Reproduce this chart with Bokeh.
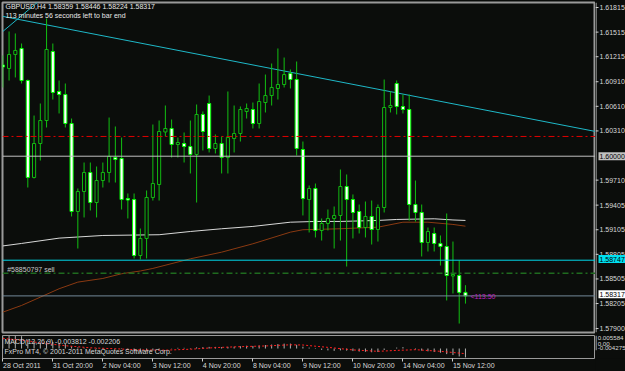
from bokeh.plotting import figure
from bokeh.models import (Range1d, FixedTicker, Span, Label, ColumnDataSource, LinearAxis)
from bokeh.layouts import column, row
from bokeh.core.properties import value
from bokeh.embed import file_html
from bokeh.resources import INLINE

# ---------------- data ----------------
bar_index = list(range(75))
opens = [1.61099, 1.61057, 1.61226, 1.61298, 1.60912, 1.59744, 1.60153, 1.60430, 1.61262, 1.60780,
         1.60743, 1.60394, 1.59334, 1.59575, 1.59804, 1.59442, 1.59707, 1.59804, 1.59984, 1.59972,
         1.59490, 1.59478, 1.58804, 1.59009, 1.59503, 1.59659, 1.60292, 1.60334, 1.60141, 1.60153,
         1.60117, 1.60021, 1.60503, 1.60635, 1.60093, 1.60153, 1.59984, 1.60213, 1.60274, 1.60539,
         1.60563, 1.60394, 1.60647, 1.60731, 1.60816, 1.60864, 1.60997, 1.60924, 1.60081, 1.59478,
         1.59611, 1.59105, 1.59189, 1.59250, 1.59286, 1.59635, 1.59478, 1.59334, 1.59141, 1.59274,
         1.59117, 1.59382, 1.60587, 1.60876, 1.60599, 1.60563, 1.59418, 1.59322, 1.58960, 1.59069,
         1.58948, 1.58912, 1.58557, 1.58563, 1.58359]
highs = [1.61214, 1.61503, 1.61479, 1.61358, 1.60924, 1.60490, 1.60635, 1.61659, 1.61358, 1.60912,
         1.60876, 1.60454, 1.59611, 1.59924, 1.59924, 1.59876, 1.59924, 1.60466, 1.60358, 1.60225,
         1.59551, 1.59551, 1.59129, 1.59587, 1.60382, 1.60430, 1.60611, 1.60442, 1.60225, 1.60286,
         1.60430, 1.60623, 1.60539, 1.60731, 1.60262, 1.60238, 1.60780, 1.60611, 1.60599, 1.60635,
         1.60647, 1.60876, 1.60984, 1.61117, 1.61298, 1.61189, 1.61045, 1.61141, 1.60177, 1.59647,
         1.59671, 1.59250, 1.59358, 1.59394, 1.59840, 1.59780, 1.59539, 1.59418, 1.59454, 1.59466,
         1.59418, 1.60924, 1.60780, 1.60912, 1.60743, 1.60743, 1.59707, 1.59418, 1.59141, 1.59141,
         1.59045, 1.59310, 1.58972, 1.58744, 1.58446]
lows = [1.60828, 1.60912, 1.60949, 1.60876, 1.59623, 1.59731, 1.59948, 1.60346, 1.60683, 1.60515,
        1.60346, 1.59274, 1.58888, 1.59262, 1.59346, 1.59262, 1.59623, 1.59683, 1.59683, 1.59358,
        1.59250, 1.58768, 1.58756, 1.58768, 1.59466, 1.59466, 1.60237, 1.59984, 1.59984, 1.59924,
        1.59792, 1.59442, 1.60069, 1.60045, 1.60033, 1.59792, 1.59792, 1.60045, 1.60177, 1.60454,
        1.60334, 1.60334, 1.60527, 1.60611, 1.60683, 1.60828, 1.60816, 1.60009, 1.59286, 1.59081,
        1.59021, 1.58984, 1.59105, 1.58888, 1.58984, 1.58671, 1.59009, 1.59069, 1.59021, 1.58936,
        1.58972, 1.59322, 1.60527, 1.60503, 1.60515, 1.59225, 1.59213, 1.58792, 1.58852, 1.58852,
        1.58683, 1.58262, 1.58346, 1.57984, 1.58224]
closes = [1.61075, 1.61226, 1.61274, 1.60912, 1.59744, 1.60153, 1.60430, 1.61286, 1.60768, 1.60743,
          1.60394, 1.59334, 1.59575, 1.59804, 1.59442, 1.59707, 1.59804, 1.59997, 1.59960, 1.59478,
          1.59472, 1.58804, 1.59009, 1.59503, 1.59671, 1.60298, 1.60334, 1.60141, 1.60165, 1.60117,
          1.60021, 1.60503, 1.60298, 1.60093, 1.60153, 1.59984, 1.60225, 1.60274, 1.60563, 1.60575,
          1.60394, 1.60659, 1.60731, 1.60828, 1.60864, 1.60984, 1.60924, 1.60093, 1.59490, 1.59611,
          1.59105, 1.59189, 1.59250, 1.59286, 1.59635, 1.59478, 1.59322, 1.59141, 1.59274, 1.59117,
          1.59382, 1.60587, 1.60611, 1.60599, 1.60563, 1.59418, 1.59322, 1.58960, 1.59093, 1.58948,
          1.58912, 1.58563, 1.58575, 1.58359, 1.58317]

time_tick_index = [0, 8, 16, 24, 32, 40, 48, 56, 64, 72]
time_tick_labels = ["28 Oct 2011", "31 Oct 20:00", "2 Nov 04:00", "3 Nov 12:00", "4 Nov 20:00",
                    "8 Nov 04:00", "9 Nov 12:00", "10 Nov 20:00", "14 Nov 04:00", "15 Nov 12:00"]
price_ticks = [1.61815, 1.61515, 1.61215, 1.60910, 1.60610, 1.60310, 1.59710, 1.59405,
               1.59105, 1.58805, 1.58505, 1.58205, 1.57900]

ma_white_index = [0, 3, 9, 16, 25, 30, 35, 40, 46, 50, 54, 60, 63, 69, 72, 74]
ma_white_value = [1.58919, 1.58949, 1.59013, 1.59045, 1.59054, 1.59093, 1.59126, 1.59154,
                  1.59205, 1.59214, 1.59214, 1.59226, 1.59238, 1.59246, 1.59232, 1.59226]
ma_brown_index = [0, 3, 6, 9, 12, 16, 19, 22, 24, 30, 35, 40, 46, 48, 54, 60, 64, 68, 72, 74]
ma_brown_value = [1.58121, 1.58202, 1.58302, 1.58403, 1.58483, 1.58527, 1.58584, 1.58617,
                  1.58648, 1.58764, 1.58844, 1.58945, 1.59085, 1.59114, 1.59126, 1.59145,
                  1.59205, 1.59205, 1.59178, 1.59157]

trend_index = [0.0, 94.8]
trend_price = [1.61685, 1.60298]
trend2_index = [0.0, 6.5]
trend2_price = [1.61503, 1.61915]

level_red = 1.60238
level_round = 1.60000
level_cyan = 1.58747
order_open = 1.58591
bid_price = 1.58317
marked_levels = [level_round, level_cyan, bid_price]
marked_colors = ["#c0c0c0", "#00e0f0", "#ffffff"]

macd_hist = [5.2, 5.4, 5.58, 5.3, 3.8, 3.0, 2.6, 3.2, 2.8, 2.4, 1.9, 0.9, 0.5, 0.3, -0.1, -0.2,
             -0.2, 0.0, 0.1, -0.2, -0.4, -1.1, -1.4, -1.2, -0.9, -0.4, 0.0, 0.1, 0.3, 0.3, 0.2,
             0.5, 0.6, 0.7, 0.7, 0.6, 0.7, 0.8, 1.0, 1.2, 1.1, 1.3, 1.5, 1.7, 1.9, 2.1, 2.1, 1.6,
             0.8, 0.4, -0.2, -0.6, -0.8, -1.0, -0.8, -0.9, -1.1, -1.3, -1.4, -1.6, -1.5, -0.6,
             0.0, 0.4, 0.6, 0.0, -0.4, -0.9, -1.2, -1.5, -1.8, -2.4, -2.8, -3.4, -3.812]
signal_index = [0, 3, 6, 10, 14, 18, 22, 26, 30, 34, 38, 42, 46, 48, 52, 56, 60, 63, 66, 70, 74]
signal_value = [4.3, 3.6, 2.4, 1.2, 0.3, -0.1, -0.6, -0.7, -0.3, 0.4, 0.8, 1.1, 1.6, 1.5, 0.5,
                -0.6, -1.2, -0.8, -0.5, -1.2, -2.206]
macd_max = 0.005584
macd_min = -0.004275

# ---------------- styles ----------------
BG = "#0b0d0b"
FONT = "Liberation Sans"
TXT = "#d8d8d8"
AXC = "#d0d0d0"
FS = 7.0
PX_PER_BAR = 593.0 / 94.85

_W = {" ": .278, ":": .278, "0": .556, "1": .556, "2": .556, "3": .556, "4": .556, "5": .556,
      "6": .556, "7": .556, "8": .556, "9": .556, "O": .778, "N": .722, "c": .5, "t": .278,
      "o": .556, "v": .5}

def text_px(s):
    return sum(_W.get(ch, .556) for ch in s) * FS

body_top = [max(o, c) for o, c in zip(opens, closes)]
body_bot = [min(o, c) for o, c in zip(opens, closes)]
fill = ["#ffffff" if c < o else BG for o, c in zip(opens, closes)]
edge = ["#00ff00" if c < o else "#12b812" for o, c in zip(opens, closes)]
src = ColumnDataSource(dict(x=bar_index, o=opens, h=highs, l=lows, c=closes,
                            bt=body_top, bb=body_bot, fill=fill, edge=edge))

PRICE_LO, PRICE_HI = 1.57876, 1.61852
p = figure(width=595, height=334, x_range=Range1d(-0.05, 94.8), y_range=Range1d(PRICE_LO, PRICE_HI),
           output_backend="svg", toolbar_location=None, x_axis_location=None,
           y_axis_location=None, min_border_left=2, min_border_right=0,
           min_border_top=2, min_border_bottom=2,
           background_fill_color=BG, border_fill_color=BG)
p.grid.visible = False
p.outline_line_color = "#9a9a9a"
p.outline_line_width = 2

# horizontal levels
p.add_layout(Span(location=level_red, dimension="width", line_color="#e00000",
                  line_width=1, line_dash="6 3 2 3"))
p.add_layout(Span(location=level_round, dimension="width", line_color="#c0c0c0", line_width=1))
p.add_layout(Span(location=level_cyan, dimension="width", line_color="#00d8e8", line_width=1))
p.add_layout(Span(location=order_open, dimension="width", line_color="#1f6a1f",
                  line_width=1.5, line_dash="6 3 2 3"))
p.add_layout(Span(location=bid_price, dimension="width", line_color="#74899a", line_width=1))

# moving averages
p.line(ma_brown_index, ma_brown_value, line_color="#8b3a12", line_width=1)
p.line(ma_white_index, ma_white_value, line_color="#d8d8d8", line_width=1)

# trend lines
p.line(trend_index, trend_price, line_color="#1fb8c8", line_width=1)
p.line(trend2_index, trend2_price, line_color="#1fb8c8", line_width=1)

# candles
p.segment(x0="x", y0="l", x1="x", y1="h", source=src, line_color="#12c012", line_width=1)
p.vbar(x="x", top="bt", bottom="bb", width=0.5, source=src, fill_color="fill",
       line_color="edge", line_width=1)

def lab(fig, x, y, text, color=TXT, baseline="top", align="left", **kw):
    fig.add_layout(Label(x=x, y=y, text=text, text_color=color, text_font=FONT,
                         text_font_size="7px", text_baseline=baseline, text_align=align, **kw))

lab(p, 0.43, 1.61852, "GBPUSD,H4  1.58359 1.58446 1.58224 1.58317", color="#e8e8e8")
lab(p, 0.43, 1.61732, "113 minutes 56 seconds left to bar end", color="#e8e8e8")
lab(p, 0.70, 1.58683, "#58850797 sell", color="#c8c8c8")
lab(p, 74.8, 1.58346, "<113.50", color="#c020c0")

# ---------------- price scale strip (right) ----------------
px_unit = (PRICE_HI - PRICE_LO) / 330.0
r = figure(width=30, height=334, x_range=Range1d(0, 30),
           y_range=Range1d(PRICE_LO - 2 * px_unit, PRICE_HI + 2 * px_unit),
           output_backend="svg", toolbar_location=None, x_axis_location=None,
           y_axis_location=None, min_border=0, min_border_left=0, min_border_right=0,
           min_border_top=0, min_border_bottom=0,
           background_fill_color=BG, border_fill_color=BG, outline_line_color=None)
r.grid.visible = False
r.add_layout(Span(location=0.5, dimension="height", line_color=AXC, line_width=1))
n = len(price_ticks)
r.segment(x0=[0] * n, x1=[3] * n, y0=price_ticks, y1=price_ticks, line_color=AXC, line_width=1)
r.text(x=[4] * n, y=price_ticks, text=["%.5f" % v for v in price_ticks],
       text_font=value(FONT), text_font_size=value("7px"), text_color=TXT,
       text_baseline="middle", text_align="left")
m = len(marked_levels)
r.rect(x=[16.5] * m, y=marked_levels, width=27, height=8, height_units="screen",
       fill_color=marked_colors, line_color=None)
r.text(x=[4] * m, y=marked_levels, text=["%.5f" % v for v in marked_levels],
       text_font=value(FONT), text_font_size=value("7px"), text_color="#000000",
       text_baseline="middle", text_align="left")

# ---------------- MACD panel ----------------
q = figure(width=595, height=37, x_range=p.x_range, y_range=Range1d(macd_min, macd_max),
           output_backend="svg", toolbar_location=None, y_axis_location=None,
           x_axis_location=None,
           min_border_left=2, min_border_right=0, min_border_top=1, min_border_bottom=2,
           background_fill_color=BG, border_fill_color=BG)
q.grid.visible = False
q.outline_line_color = "#9a9a9a"
q.outline_line_width = 1
macd_vals = [v / 1000.0 for v in macd_hist]
sig_vals = [v / 1000.0 for v in signal_value]
q.segment(x0=bar_index, y0=[0.0] * len(bar_index), x1=bar_index, y1=macd_vals,
          line_color="#b0b0b0", line_width=1)
q.line(signal_index, sig_vals, line_color="#ff2020", line_width=1, line_dash="2 2")

tick_axis = LinearAxis(ticker=FixedTicker(ticks=time_tick_index))
tick_axis.major_label_overrides = {i: "" for i in time_tick_index}
tick_axis.major_label_text_font_size = "1px"
tick_axis.major_label_standoff = 0
tick_axis.axis_line_color = None
tick_axis.major_tick_line_color = AXC
tick_axis.major_tick_out = 3
tick_axis.major_tick_in = 0
tick_axis.minor_tick_out = 0
tick_axis.minor_tick_in = 0
q.add_layout(tick_axis, "below")

label_pos = [i + text_px(s) / 2.0 / PX_PER_BAR for i, s in zip(time_tick_index, time_tick_labels)]
label_axis = LinearAxis(ticker=FixedTicker(ticks=label_pos))
label_axis.major_label_overrides = {x: s for x, s in zip(label_pos, time_tick_labels)}
label_axis.axis_line_color = None
label_axis.major_tick_out = 0
label_axis.major_tick_in = 0
label_axis.minor_tick_out = 0
label_axis.minor_tick_in = 0
label_axis.major_label_standoff = 0
label_axis.major_label_text_font = FONT
label_axis.major_label_text_font_size = "7px"
label_axis.major_label_text_color = TXT
q.add_layout(label_axis, "below")

lab(q, 0.27, 0.0047, "MACD(12,26,9) -0.003812 -0.002206")
lab(q, 0.27, 0.0002, "FxPro MT4, \u00a9 2001-2011 MetaQuotes Software Corp.")

# MACD scale strip (right)
mpx = (macd_max - macd_min) / 22.0
rq = figure(width=30, height=37, x_range=Range1d(0, 30),
            y_range=Range1d(macd_min - 14 * mpx, macd_max + 1 * mpx),
            output_backend="svg", toolbar_location=None, x_axis_location=None,
            y_axis_location=None, min_border=0, min_border_left=0, min_border_right=0,
            min_border_top=0, min_border_bottom=0,
            background_fill_color=BG, border_fill_color=BG, outline_line_color=None)
rq.grid.visible = False
rq.segment(x0=[0.5], x1=[0.5], y0=[macd_max + mpx], y1=[macd_min - 0.7 * mpx],
           line_color=AXC, line_width=1)
MFS = value("6.2px")
rq.text(x=[2.2], y=[macd_max], text=["%.6f" % macd_max], text_font=value(FONT),
        text_font_size=MFS, text_color=TXT, text_baseline="top", text_align="left")
rq.text(x=[2.2], y=[0.0], text=["0.00"], text_font=value(FONT),
        text_font_size=MFS, text_color=TXT, text_baseline="middle", text_align="left")
rq.text(x=[2.2], y=[macd_min], text=["%.6f" % macd_min], text_font=value(FONT),
        text_font_size=MFS, text_color=TXT, text_baseline="bottom", text_align="left")

layout = column(row(p, r, spacing=0), row(q, rq, spacing=0), spacing=0, background=BG)
html = file_html(layout, INLINE)
html = html.replace("<body>", '<body style="margin:0;background:%s">' % BG)
open("out.html", "w").write(html)
